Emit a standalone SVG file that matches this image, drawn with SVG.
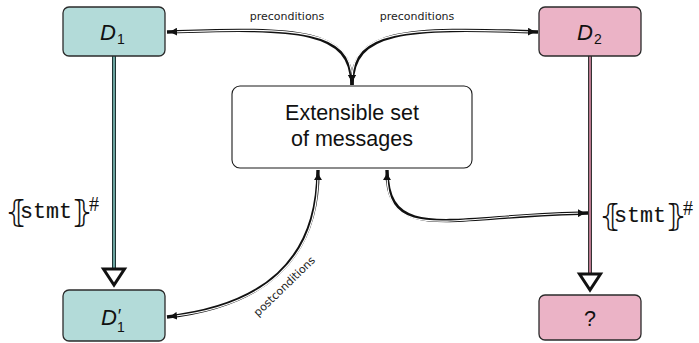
<svg xmlns="http://www.w3.org/2000/svg" width="699" height="343" viewBox="0 0 699 343">
  <style>
    .box { stroke: #2b2b2b; stroke-width: 1.3; }
    .teal { fill: #b3dbd9; }
    .pink { fill: #ebb3c6; }
    .plain { fill: #ffffff; stroke: #1a1a1a; stroke-width: 1.1; }
    .math { font-family: "Liberation Sans", Arial, sans-serif; font-style: italic; fill: #111; }
    .sub { font-family: "Liberation Sans", Arial, sans-serif; font-size: 14px; fill: #111; }
    .body { font-family: "Liberation Sans", Arial, sans-serif; font-size: 21.5px; fill: #111; text-anchor: middle; }
    .small { font-family: "DejaVu Sans", sans-serif; font-size: 11px; fill: #222; text-anchor: middle; }
    .label { font-family: "DejaVu Sans", "Noto Sans", sans-serif; fill: #111; }
    .tt { font-family: "Liberation Mono", "Courier New", monospace; font-size: 21.5px; stroke: #111; stroke-width: 0.15; }
    .brk { font-size: 30px; }
    .hash { font-family: "Liberation Serif", serif; font-size: 20px; }
    .dbl-out { fill: none; stroke: #111; stroke-width: 3.4; }
    .dbl-in { fill: none; stroke: #fff; stroke-width: 1.2; }
    .tips { fill: none; stroke: none; marker-start: url(#ah); marker-end: url(#ah); }
    .hollow { fill: #fff; stroke: #111; stroke-width: 3; stroke-linejoin: miter; }
  </style>
  <defs>
    <marker id="ah" viewBox="0 0 10 8" refX="10" refY="4" markerWidth="10" markerHeight="8" markerUnits="userSpaceOnUse" orient="auto-start-reverse">
      <path d="M0,0 Q4,3.2 10,4 Q4,4.8 0,8 Z" fill="#111"/>
    </marker>
  </defs>

  <!-- connectors -->
  <g id="connectors">
    <!-- refinement edges (left teal, right pink) -->
    <path d="M114,56 L114,269" fill="none" stroke="#1e3434" stroke-width="4"/>
    <path d="M114,56 L114,269" fill="none" stroke="#7fc0bb" stroke-width="1.6"/>
    <polygon class="hollow" points="103.5,269 124.5,269 114,285"/>
    <path d="M590,56 L590,274" fill="none" stroke="#333" stroke-width="4"/>
    <path d="M590,56 L590,274" fill="none" stroke="#dc8aa6" stroke-width="1.6"/>
    <polygon class="hollow" points="579.5,274 600.5,274 590,290"/>

    <!-- preconditions, left -->
    <path class="dbl-out" d="M352,85 C352,30 300,27 167,32"/>
    <path class="dbl-in" d="M352,80 C352,30 300,27 172,32"/>
    <path class="tips" d="M352,85 C352,30 300,27 167,32"/>
    <!-- preconditions, right -->
    <path class="dbl-out" d="M352,85 C352,30 404,27 538,32"/>
    <path class="dbl-in" d="M352,80 C352,30 404,27 533,32"/>
    <path class="tips" d="M352,85 C352,30 404,27 538,32"/>
    <!-- postconditions -->
    <path class="dbl-out" d="M318,170 C318,262 262,306 167,317"/>
    <path class="dbl-in" d="M318,175 C318,262 262,306 172,316.5"/>
    <path class="tips" d="M318,170 C318,262 262,306 167,317"/>
    <!-- messages to the right refinement -->
    <path class="dbl-out" d="M387,170 C387,245 452,215 588,213"/>
    <path class="dbl-in" d="M387,175 C387,245 452,215 583,213"/>
    <path class="tips" d="M387,170 C387,245 452,215 588,213"/>

    <text class="small" x="287" y="20">preconditions</text>
    <text class="small" x="417" y="20">preconditions</text>
    <text class="small" transform="translate(287,289) rotate(-44)">postconditions</text>

    <!-- edge labels -->
    <text class="label"><tspan class="brk" x="5" y="222">⦃</tspan><tspan class="tt" x="20" y="218" textLength="52" lengthAdjust="spacingAndGlyphs">stmt</tspan><tspan class="brk" x="71" y="222">⦄</tspan><tspan class="hash" x="89" y="211">#</tspan></text>
    <text class="label"><tspan class="brk" x="599" y="226">⦃</tspan><tspan class="tt" x="614" y="222" textLength="52" lengthAdjust="spacingAndGlyphs">stmt</tspan><tspan class="brk" x="665" y="226">⦄</tspan><tspan class="hash" x="683" y="215">#</tspan></text>
  </g>

  <!-- nodes -->
  <g id="D1">
    <rect class="box teal" x="63" y="7" width="102" height="49" rx="6"/>
    <text class="math" x="100" y="40" font-size="22">D<tspan class="sub" font-style="normal" x="117" y="44">1</tspan></text>
  </g>
  <g id="D2">
    <rect class="box pink" x="539" y="7" width="102" height="49" rx="6"/>
    <text class="math" x="577" y="40" font-size="22">D<tspan class="sub" font-style="normal" x="594" y="44">2</tspan></text>
  </g>
  <g id="messages">
    <rect class="plain" x="232" y="86" width="240" height="82" rx="8"/>
    <text class="body" x="352" y="120">Extensible set</text>
    <text class="body" x="352" y="146">of messages</text>
  </g>
  <g id="D1prime">
    <rect class="box teal" x="63" y="290" width="102" height="51" rx="6"/>
    <text class="math" x="101" y="325" font-size="22">D<tspan font-size="18" x="117" y="322">′</tspan><tspan class="sub" font-style="normal" x="117" y="332">1</tspan></text>
  </g>
  <g id="unknown">
    <rect class="box pink" x="539" y="295" width="102" height="45" rx="6"/>
    <text class="body" x="590" y="326">?</text>
  </g>
</svg>
